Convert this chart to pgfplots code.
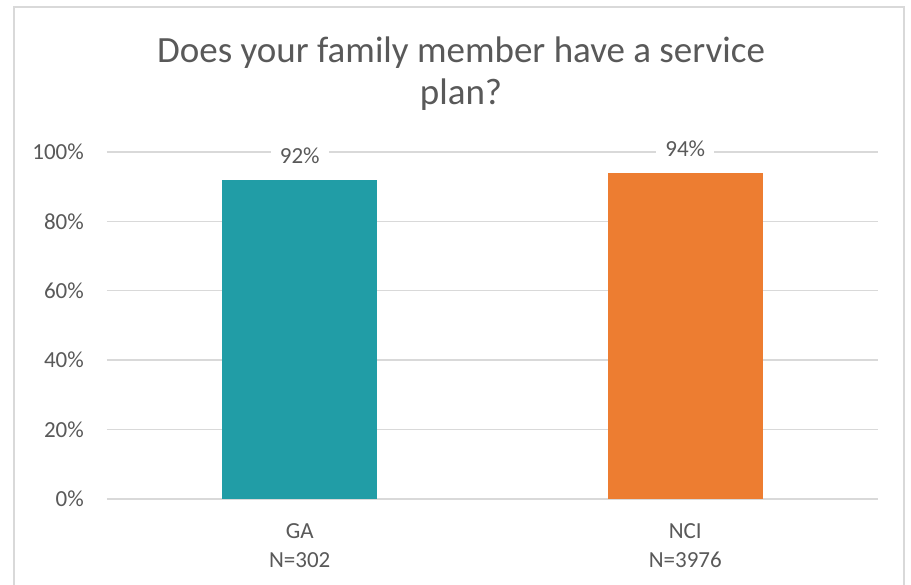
\documentclass[border=0pt]{standalone}
\usepackage{pgfplots}
\pgfplotsset{compat=1.18}
\usepackage{fontspec}
\setmainfont{Carlito}
\definecolor{txt}{HTML}{595959}
\definecolor{grd}{HTML}{D9D9D9}
\definecolor{teal}{HTML}{219DA6}
\definecolor{orng}{HTML}{ED7D31}
\begin{document}
\begin{tikzpicture}[x=1pt,y=1pt]
\useasboundingbox (0,0) rectangle (911,585);
\fill[white] (0,0) rectangle (911,585);
\draw[grd, line width=1.3pt] (14,-10) rectangle (904,578);
% title
\node[anchor=base, text=txt, font=\fontsize{37}{42}\selectfont] at (461,522) {Does your family member have a service};
\node[anchor=base, text=txt, font=\fontsize{37}{42}\selectfont] at (461,480) {plan?};
\begin{axis}[
  at={(107pt,86pt)}, anchor=south west,
  scale only axis,
  width=771pt, height=347pt,
  xmin=-0.5, xmax=1.5,
  ymin=0, ymax=100,
  axis line style={draw=none},
  ytick={0,20,...,100},
  yticklabel={\pgfmathprintnumber{\tick}\%},
  xtick={0,1},
  xticklabels={{GA\\N=302},{NCI\\N=3976}},
  major tick length=0pt,
  ymajorgrids,
  grid style={grd, line width=1.4pt},
  tick label style={text=txt, font=\fontsize{23}{29}\selectfont},
  /pgf/number format/assume math mode=true,
  yticklabel style={anchor=east, inner sep=0pt, xshift=-23pt},
  xticklabel style={align=center, anchor=north, inner sep=0pt, yshift=-24pt},
  ybar, bar width=155pt, bar shift=0pt,
  nodes near coords={\pgfmathprintnumber{\pgfplotspointmeta}\%},
  nodes near coords style={text=txt, font=\fontsize{23}{29}\selectfont,
    fill=white, inner xsep=9pt, inner ysep=3pt, anchor=base, yshift=16pt},
  clip=false,
]
\addplot[fill=teal, draw=none] coordinates {(0,92)};
\addplot[fill=orng, draw=none] coordinates {(1,94)};
\end{axis}
\end{tikzpicture}
\end{document}
